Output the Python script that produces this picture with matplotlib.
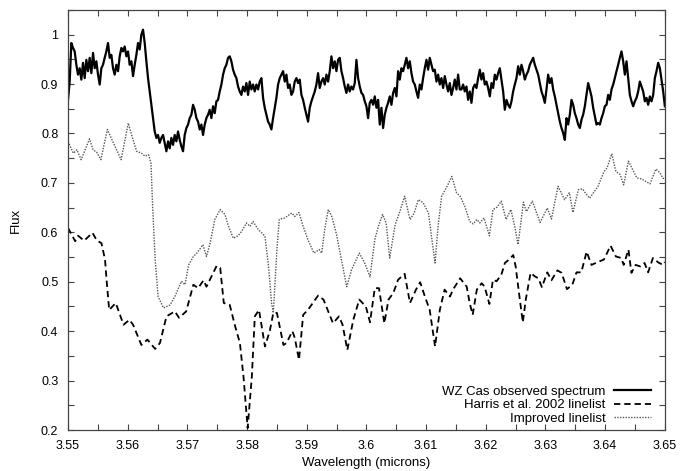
import numpy as np
import matplotlib
matplotlib.use("Agg")
import matplotlib.pyplot as plt
from matplotlib.ticker import MultipleLocator

plt.rcParams['font.family'] = ['Liberation Sans', 'DejaVu Sans']

# ---- observed spectrum (uniform wavelength grid 3.55..3.65) ----
obs_flux = [
    0.868, 0.905, 0.983, 0.973, 0.966, 0.939, 0.919, 0.932, 0.909, 0.943,
    0.912, 0.949, 0.926, 0.953, 0.922, 0.963, 0.932, 0.946, 0.919, 0.899,
    0.932, 0.939, 0.953, 0.966, 0.983, 0.953, 0.959, 0.932, 0.919, 0.939,
    0.926, 0.956, 0.973, 0.966, 0.976, 0.956, 0.966, 0.939, 0.946, 0.916,
    0.939, 0.959, 0.983, 0.970, 1.000, 1.010, 0.983, 0.946, 0.912, 0.885,
    0.858, 0.831, 0.804, 0.791, 0.797, 0.781, 0.791, 0.797, 0.781, 0.764,
    0.784, 0.770, 0.791, 0.777, 0.797, 0.784, 0.804, 0.787, 0.774, 0.764,
    0.797, 0.811, 0.818, 0.831, 0.838, 0.858, 0.848, 0.831, 0.824, 0.808,
    0.818, 0.797, 0.818, 0.831, 0.838, 0.848, 0.831, 0.855, 0.841, 0.865,
    0.868, 0.885, 0.899, 0.919, 0.932, 0.939, 0.953, 0.956, 0.946, 0.929,
    0.919, 0.912, 0.895, 0.885, 0.878, 0.895, 0.885, 0.902, 0.878, 0.905,
    0.889, 0.899, 0.885, 0.899, 0.889, 0.905, 0.912, 0.872, 0.852, 0.838,
    0.824, 0.818,
    0.808, 0.831, 0.852, 0.872, 0.899, 0.912, 0.919, 0.926, 0.905, 0.919,
    0.892, 0.899, 0.878, 0.885, 0.905, 0.912, 0.902, 0.909, 0.878, 0.868,
    0.852, 0.838, 0.824, 0.852, 0.865, 0.875, 0.885, 0.899, 0.922, 0.892,
    0.905, 0.912, 0.899, 0.919, 0.905, 0.926, 0.956, 0.932, 0.946, 0.926,
    0.949, 0.953, 0.926, 0.912, 0.895, 0.882, 0.899, 0.885, 0.895, 0.889,
    0.902, 0.949, 0.912, 0.895, 0.882, 0.878, 0.865, 0.855, 0.831, 0.862,
    0.868, 0.858, 0.875, 0.852, 0.868, 0.818, 0.852, 0.811, 0.838, 0.852,
    0.862, 0.875, 0.858, 0.882, 0.892, 0.875, 0.926, 0.909, 0.932, 0.926,
    0.939, 0.953, 0.932, 0.946, 0.922, 0.905, 0.899, 0.885, 0.872, 0.899,
    0.889, 0.912, 0.932, 0.949, 0.929, 0.953, 0.939, 0.926, 0.929, 0.905,
    0.919, 0.899, 0.912, 0.892, 0.916, 0.899, 0.885, 0.902, 0.878, 0.892,
    0.909, 0.889, 0.919, 0.889,
    0.889, 0.899, 0.885, 0.895, 0.868, 0.885, 0.862, 0.892, 0.899, 0.892,
    0.912, 0.929, 0.909, 0.922, 0.899, 0.905, 0.892, 0.875, 0.902, 0.892,
    0.919, 0.909, 0.922, 0.932, 0.909, 0.885, 0.848, 0.868, 0.858, 0.852,
    0.865, 0.885, 0.899, 0.912, 0.936, 0.919, 0.939, 0.926, 0.909, 0.919,
    0.926, 0.939, 0.946, 0.953, 0.939, 0.929, 0.919, 0.902, 0.885, 0.875,
    0.862, 0.889, 0.919, 0.902, 0.912, 0.889, 0.875, 0.858, 0.841, 0.824,
    0.811, 0.801, 0.787, 0.831, 0.818, 0.838, 0.868, 0.858, 0.841, 0.831,
    0.818, 0.811, 0.828, 0.838, 0.855, 0.878, 0.902, 0.889, 0.875, 0.852,
    0.835, 0.818, 0.821, 0.818, 0.831, 0.841, 0.855, 0.858, 0.878, 0.868,
    0.889, 0.899, 0.912, 0.926, 0.939, 0.953, 0.966, 0.946, 0.919, 0.946,
    0.912, 0.878, 0.865, 0.855, 0.865, 0.872, 0.885, 0.905, 0.895, 0.885,
    0.865, 0.872, 0.858, 0.875, 0.865, 0.878, 0.912, 0.926, 0.943, 0.932,
    0.909, 0.885, 0.855,
]
obs_wave = np.linspace(3.55, 3.65, len(obs_flux))

# ---- Harris et al. 2002 linelist model ----
harris_wave = [
    3.5500, 3.5512, 3.5517, 3.5527, 3.5541, 3.5548, 3.5556, 3.5562, 3.5565, 3.5569,
    3.5580, 3.5593, 3.5603, 3.5609, 3.5623, 3.5633, 3.5646, 3.5654, 3.5665, 3.5679,
    3.5686, 3.5698, 3.5710, 3.5718, 3.5727, 3.5732, 3.5749, 3.5755, 3.5761, 3.5771,
    3.5780, 3.5788, 3.5794, 3.5801, 3.5808, 3.5813, 3.5820, 3.5830, 3.5838,
    3.5844, 3.5850, 3.5861, 3.5866, 3.5876, 3.5880, 3.5887, 3.5894, 3.5902, 3.5919,
    3.5928, 3.5944, 3.5954, 3.5960, 3.5968, 3.5978, 3.5988, 3.5999, 3.6006, 3.6014,
    3.6021, 3.6030, 3.6037, 3.6045, 3.6053, 3.6064, 3.6073, 3.6083, 3.6090, 3.6098,
    3.6106, 3.6115, 3.6123, 3.6131, 3.6140, 3.6145,
    3.6157, 3.6168, 3.6173, 3.6178, 3.6185, 3.6193, 3.6198, 3.6206, 3.6212, 3.6218,
    3.6226, 3.6232, 3.6239, 3.6246, 3.6250, 3.6257, 3.6262, 3.6267, 3.6275, 3.6282,
    3.6288, 3.6294, 3.6303, 3.6310, 3.6320, 3.6327, 3.6336, 3.6345, 3.6352, 3.6360,
    3.6369, 3.6377, 3.6386, 3.6398, 3.6409, 3.6418, 3.6427, 3.6431, 3.6439, 3.6444,
    3.6451, 3.6459, 3.6466, 3.6472, 3.6480, 3.6489, 3.6497, 3.6500,
]
harris_flux = [
    0.609, 0.582, 0.593, 0.583, 0.599, 0.584, 0.578, 0.545, 0.498, 0.443,
    0.457, 0.413, 0.423, 0.413, 0.372, 0.383, 0.364, 0.376, 0.430, 0.440,
    0.427, 0.440, 0.494, 0.487, 0.503, 0.490, 0.532, 0.528, 0.457, 0.453,
    0.410, 0.376, 0.308, 0.204, 0.308, 0.430, 0.443, 0.369, 0.400,
    0.437, 0.437, 0.372, 0.376, 0.400, 0.386, 0.342, 0.433, 0.443, 0.472,
    0.464, 0.416, 0.430, 0.413, 0.362, 0.423, 0.464, 0.450, 0.418, 0.487,
    0.487, 0.416, 0.464, 0.477, 0.504, 0.516, 0.457, 0.484, 0.499, 0.470,
    0.443, 0.369, 0.443, 0.484, 0.470, 0.484,
    0.507, 0.490, 0.457, 0.433, 0.484, 0.497, 0.490, 0.455, 0.504, 0.501,
    0.514, 0.538, 0.545, 0.554, 0.531, 0.464, 0.418, 0.464, 0.518, 0.511,
    0.507, 0.489, 0.519, 0.503, 0.523, 0.518, 0.485, 0.494, 0.519, 0.519,
    0.561, 0.534, 0.539, 0.545, 0.573, 0.551, 0.548, 0.534, 0.565, 0.518,
    0.534, 0.531, 0.538, 0.519, 0.548, 0.539, 0.534, 0.540,
]

# ---- Improved linelist model ----
improved_wave = [
    3.5500, 3.5509, 3.5515, 3.5522, 3.5536, 3.5542, 3.5548, 3.5555, 3.5566, 3.5576,
    3.5589, 3.5601, 3.5608, 3.5615, 3.5623, 3.5629, 3.5635, 3.5639, 3.5642, 3.5646,
    3.5651, 3.5660, 3.5671, 3.5679, 3.5690, 3.5696, 3.5702, 3.5710, 3.5716, 3.5726,
    3.5732, 3.5738, 3.5746, 3.5755, 3.5763, 3.5769, 3.5777, 3.5785, 3.5791, 3.5799,
    3.5805, 3.5810, 3.5819,
    3.5822, 3.5830, 3.5836, 3.5841, 3.5844, 3.5850, 3.5854, 3.5863, 3.5875, 3.5880,
    3.5887, 3.5894, 3.5902, 3.5912, 3.5921, 3.5925, 3.5930, 3.5936, 3.5942, 3.5950,
    3.5958, 3.5967, 3.5975, 3.5988, 3.5997, 3.6006, 3.6014, 3.6020, 3.6027, 3.6033,
    3.6039, 3.6048, 3.6056, 3.6064, 3.6073, 3.6080, 3.6087, 3.6095, 3.6104, 3.6109,
    3.6115, 3.6120, 3.6126, 3.6134, 3.6143, 3.6151,
    3.6157, 3.6165, 3.6173, 3.6179, 3.6185, 3.6190, 3.6197, 3.6206, 3.6212, 3.6219,
    3.6226, 3.6234, 3.6242, 3.6249, 3.6254, 3.6263, 3.6268, 3.6278, 3.6291, 3.6303,
    3.6310, 3.6321, 3.6332, 3.6340, 3.6346, 3.6355, 3.6362, 3.6366, 3.6374, 3.6388,
    3.6398, 3.6403, 3.6411, 3.6418, 3.6425, 3.6431, 3.6439, 3.6446, 3.6453, 3.6461,
    3.6475, 3.6485, 3.6492, 3.6497, 3.6500,
]
improved_flux = [
    0.784, 0.760, 0.767, 0.747, 0.789, 0.767, 0.762, 0.747, 0.808, 0.781,
    0.747, 0.821, 0.791, 0.764, 0.760, 0.754, 0.757, 0.740, 0.646, 0.545,
    0.470, 0.447, 0.453, 0.470, 0.501, 0.494, 0.534, 0.551, 0.558, 0.575,
    0.551, 0.578, 0.626, 0.646, 0.636, 0.612, 0.588, 0.593, 0.602, 0.619,
    0.612, 0.622, 0.605,
    0.602, 0.592, 0.531, 0.457, 0.437, 0.565, 0.626, 0.629, 0.639, 0.632,
    0.640, 0.612, 0.585, 0.558, 0.565, 0.558, 0.605, 0.646, 0.632, 0.595,
    0.545, 0.490, 0.524, 0.558, 0.538, 0.510, 0.585, 0.612, 0.636, 0.619,
    0.548, 0.615, 0.642, 0.673, 0.626, 0.639, 0.666, 0.660, 0.639, 0.592,
    0.538, 0.612, 0.673, 0.690, 0.713, 0.680,
    0.673, 0.652, 0.622, 0.617, 0.626, 0.619, 0.629, 0.593, 0.646, 0.651,
    0.663, 0.626, 0.646, 0.609, 0.575, 0.661, 0.642, 0.663, 0.620, 0.649,
    0.627, 0.693, 0.666, 0.680, 0.640, 0.686, 0.688, 0.681, 0.669, 0.693,
    0.723, 0.730, 0.759, 0.723, 0.717, 0.696, 0.744, 0.727, 0.710, 0.708,
    0.698, 0.728, 0.720, 0.709, 0.710,
]

labels = ["WZ Cas observed spectrum", "Harris et al. 2002 linelist", "Improved linelist"]

fig = plt.figure(figsize=(6.94, 4.71), dpi=100)
ax = fig.add_axes([0.098, 0.087, 0.860, 0.892])

ax.plot(obs_wave, obs_flux, color='black', lw=1.6, label=labels[0])
ax.plot(harris_wave, harris_flux, color='black', lw=1.3, ls=(0, (3.5, 2.2)), label=labels[1])
ax.plot(improved_wave, improved_flux, color='#555555', lw=1.0, ls=(0, (1, 1)), label=labels[2])

ax.set_xlim(3.55, 3.65)
ax.set_ylim(0.2, 1.05)
ax.xaxis.set_major_locator(MultipleLocator(0.01))
ax.xaxis.set_minor_locator(MultipleLocator(0.005))
ax.yaxis.set_major_locator(MultipleLocator(0.1))
ax.yaxis.set_minor_locator(MultipleLocator(0.05))
ax.xaxis.set_major_formatter(plt.FuncFormatter(lambda v, p: f"{v:.2f}".rstrip('0').rstrip('.') if abs(v - round(v, 1)) < 1e-9 else f"{v:.2f}"))
ax.yaxis.set_major_formatter(plt.FuncFormatter(lambda v, p: "1" if abs(v - 1) < 1e-9 else f"{v:.1f}"))
ax.tick_params(which='both', direction='in', top=True, right=True, length=4, width=0.8,
               labelsize=9, color='#444444')
ax.tick_params(axis='x', which='major', pad=7)
ax.tick_params(axis='y', which='major', pad=7)
for s in ax.spines.values():
    s.set_color('#444444')
    s.set_linewidth(0.9)

ax.set_xlabel("Wavelength (microns)", fontsize=9.5, labelpad=4)
ax.set_ylabel("Flux", fontsize=9.5, labelpad=14)

leg = ax.legend(loc='lower right', frameon=False, markerfirst=False, fontsize=9.5,
                handlelength=2.8, handletextpad=0.6, labelspacing=0.1,
                borderaxespad=0.0, bbox_to_anchor=(0.985, 0.0))
for t in leg.get_texts():
    t.set_ha('right')

fig.savefig("out.png", dpi=100)
